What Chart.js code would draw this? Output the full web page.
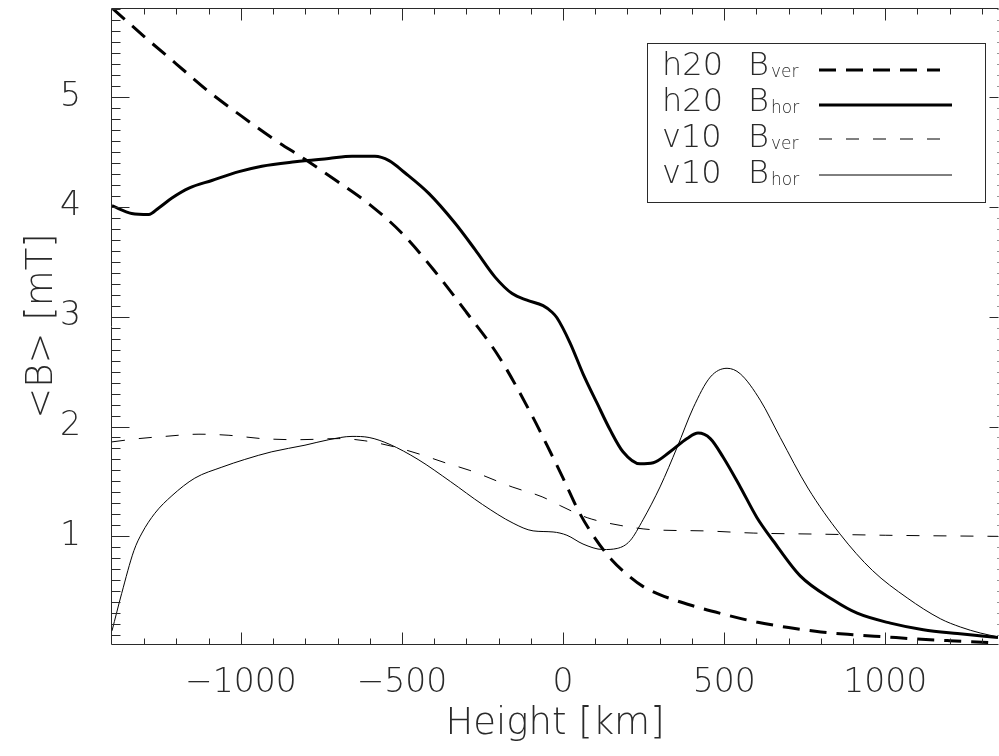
<!DOCTYPE html>
<html>
<head>
<meta charset="utf-8">
<script src="https://cdn.jsdelivr.net/npm/chart.js@4.4.1/dist/chart.umd.min.js"></script>
<style>
  html, body { margin: 0; padding: 0; background: #fff; }
  canvas { display: block; }
</style>
</head>
<body>
<canvas id="profileChart" width="999" height="756"></canvas>
<script>
// h20 B_ver (thick dashed)
const h20VerX = [-1400, -1300, -1200, -1100, -1000, -900, -800, -700, -600, -500, -400, -300, -200, -100, -50, 0, 50, 100, 150, 200, 250, 300, 400, 500, 600, 700, 800, 900, 1000, 1100, 1200, 1350];
const h20VerY = [5.81, 5.55, 5.30, 5.05, 4.83, 4.62, 4.43, 4.23, 4.02, 3.76, 3.42, 3.04, 2.64, 2.12, 1.83, 1.53, 1.22, 0.98, 0.79, 0.65, 0.54, 0.47, 0.37, 0.29, 0.22, 0.17, 0.13, 0.105, 0.085, 0.065, 0.05, 0.03];

// h20 B_hor (thick solid)
const h20HorX = [-1400, -1339, -1286, -1255, -1214, -1161, -1090, -1006, -935, -832, -727, -655, -584, -540, -491, -416, -335, -273, -211, -158, -112, -62, -34, -19, 22, 62, 106, 146, 186, 239, 280, 332, 385, 419, 457, 497, 550, 602, 652, 736, 839, 913, 1016, 1118, 1224, 1350];
const h20HorY = [4.01, 3.94, 3.93, 3.99, 4.08, 4.17, 4.24, 4.32, 4.37, 4.41, 4.44, 4.46, 4.46, 4.42, 4.31, 4.12, 3.85, 3.61, 3.36, 3.21, 3.15, 3.10, 3.04, 2.99, 2.76, 2.48, 2.21, 1.97, 1.77, 1.66, 1.67, 1.77, 1.89, 1.94, 1.89, 1.72, 1.45, 1.17, 0.96, 0.64, 0.42, 0.30, 0.21, 0.15, 0.115, 0.08];

// v10 B_ver (thin dashed)
const v10VerX = [-1400, -1317, -1236, -1130, -1037, -935, -820, -696, -615, -531, -447, -366, -289, -158, -65, -9, 75, 177, 280, 435, 590, 800, 1000, 1350];
const v10VerY = [1.86, 1.89, 1.91, 1.93, 1.92, 1.89, 1.88, 1.89, 1.87, 1.82, 1.75, 1.67, 1.60, 1.45, 1.36, 1.28, 1.17, 1.10, 1.06, 1.05, 1.03, 1.02, 1.01, 1.00];

// v10 B_hor (thin solid)
const v10HorX = [-1400, -1370, -1332, -1307, -1267, -1214, -1143, -1059, -988, -904, -801, -727, -655, -602, -540, -450, -350, -250, -155, -93, -31, 12, 62, 124, 168, 208, 248, 301, 354, 404, 457, 509, 550, 612, 674, 760, 860, 960, 1068, 1171, 1233, 1295, 1350];
const v10HorY = [0.14, 0.48, 0.87, 1.03, 1.21, 1.37, 1.53, 1.63, 1.70, 1.77, 1.83, 1.88, 1.91, 1.90, 1.84, 1.70, 1.50, 1.29, 1.12, 1.05, 1.04, 1.01, 0.93, 0.88, 0.89, 0.96, 1.15, 1.45, 1.81, 2.17, 2.45, 2.53, 2.48, 2.24, 1.90, 1.44, 1.02, 0.69, 0.44, 0.25, 0.175, 0.12, 0.085];

const xTicks = [-1000, -500, 0, 500, 1000];
const yTicks = [1, 2, 3, 4, 5];
const legendRuns = ['h20', 'h20', 'v10', 'v10'];
const legendSubs = ['ver', 'hor', 'ver', 'hor'];

const FONT = '"DejaVu Sans", sans-serif';
const INK = '#2a2a2a';

const toPts = (xs, ys) => xs.map((x, i) => ({ x: x, y: ys[i] }));

// IDL style frame: inward ticks on all four sides
const frame = {
  id: 'frame',
  afterDraw(chart) {
    const ctx = chart.ctx;
    const sx = chart.scales.x, sy = chart.scales.y;
    const L = Math.round(sx.left) - 0.5, R = Math.round(sx.right) + 0.5;
    const T = Math.round(sy.top) + 0.5, B = Math.round(sy.bottom) + 0.5;
    ctx.save();
    ctx.strokeStyle = INK;
    ctx.lineWidth = 1;
    ctx.beginPath();
    ctx.moveTo(R, T); ctx.lineTo(L, T); ctx.lineTo(L, B); ctx.lineTo(R, B);
    for (let v = -1300; v <= 1300; v += 100) {
      const px = Math.round(sx.getPixelForValue(v)) + 0.5;
      const len = v % 500 === 0 ? 12 : 6;
      ctx.moveTo(px, B); ctx.lineTo(px, B - len);
      ctx.moveTo(px, T); ctx.lineTo(px, T + len);
    }
    for (let k = 1; k <= 58; k++) {
      const py = Math.round(sy.getPixelForValue(k / 10)) + 0.5;
      const major = k % 10 === 0;
      ctx.moveTo(L, py); ctx.lineTo(L + (major ? 18 : 9), py);
      ctx.moveTo(R, py); ctx.lineTo(R - (major ? 9 : 1), py);
    }
    ctx.stroke();
    ctx.restore();
  }
};

// legend box with subscripts
const legendBox = {
  id: 'legendBox',
  afterDraw(chart) {
    const ctx = chart.ctx;
    ctx.save();
    ctx.strokeStyle = INK;
    ctx.lineWidth = 1;
    ctx.strokeRect(647.5, 43.5, 338, 159);
    const rows = [75, 111, 147, 183];
    const lineY = [70, 105, 139, 175];
    chart.data.datasets.forEach((ds, i) => {
      ctx.fillStyle = INK;
      ctx.textBaseline = 'alphabetic';
      ctx.textAlign = 'left';
      ctx.font = '200 32px ' + FONT;
      ctx.fillText(legendRuns[i], 662, rows[i]);
      ctx.fillText('B', 748, rows[i]);
      ctx.font = '200 17px ' + FONT;
      ctx.fillText(legendSubs[i], 771, rows[i] + 2);
      ctx.strokeStyle = ds.borderColor;
      ctx.lineWidth = ds.borderWidth;
      ctx.setLineDash(ds.borderDash || []);
      ctx.beginPath();
      ctx.moveTo(819, lineY[i]);
      ctx.lineTo(ds.borderDash.length ? 940 : 952, lineY[i]);
      ctx.stroke();
      ctx.setLineDash([]);
    });
    ctx.restore();
  }
};

const lineSet = (pts, width, dash) => ({
  data: pts,
  showLine: true,
  borderColor: '#000',
  borderWidth: width,
  borderDash: dash,
  pointRadius: 0,
  cubicInterpolationMode: 'monotone',
  fill: false
});

const noPad = s => { s.paddingTop = 0; s.paddingBottom = 0; s.paddingLeft = 0; s.paddingRight = 0; };

new Chart(document.getElementById('profileChart'), {
  type: 'scatter',
  data: {
    datasets: [
      lineSet(toPts(h20VerX, h20VerY), 3, [17, 10]),
      lineSet(toPts(h20HorX, h20HorY), 3, []),
      lineSet(toPts(v10VerX, v10VerY), 1, [13, 14]),
      lineSet(toPts(v10HorX, v10HorY), 1, [])
    ]
  },
  options: {
    responsive: false,
    animation: false,
    layout: { padding: { top: 8, right: 1, left: 0, bottom: 0 } },
    plugins: {
      legend: { display: false },
      tooltip: { enabled: false }
    },
    scales: {
      x: {
        type: 'linear',
        min: -1400,
        max: 1350,
        grid: { display: false, drawTicks: false },
        border: { display: false },
        afterFit: s => { s.height = 112; noPad(s); },
        afterBuildTicks: s => { s.ticks = xTicks.map(v => ({ value: v })); },
        ticks: {
          color: INK,
          padding: 20,
          maxRotation: 0,
          font: { family: FONT, size: 33, weight: 200 },
          callback: v => v < 0 ? '\u2212' + Math.abs(v) : String(v)
        },
        title: {
          display: true,
          text: 'Height [km]',
          color: INK,
          font: { family: FONT, size: 37, weight: 200 },
          padding: { top: 0, bottom: 9 }
        }
      },
      y: {
        type: 'linear',
        min: 0.02,
        max: 5.81,
        grid: { display: false, drawTicks: false },
        border: { display: false },
        afterFit: s => { s.width = 112; noPad(s); },
        afterBuildTicks: s => { s.ticks = yTicks.map(v => ({ value: v })); },
        ticks: {
          color: INK,
          padding: 31,
          font: { family: FONT, size: 33, weight: 200 },
          callback: v => String(v)
        },
        title: {
          display: true,
          text: '<B> [mT]',
          color: INK,
          font: { family: FONT, size: 37, weight: 200 },
          padding: { top: 20, bottom: 0 }
        }
      }
    }
  },
  plugins: [frame, legendBox]
});
</script>
</body>
</html>
